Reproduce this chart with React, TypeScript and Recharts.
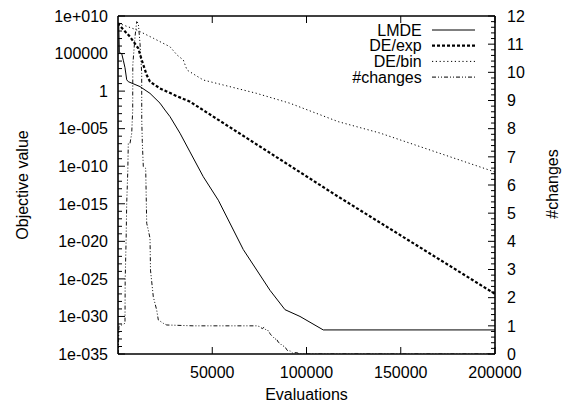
import React from 'react';
import { LineChart, Line, XAxis, YAxis, Legend, ReferenceLine } from 'recharts';

const FONT = '"Liberation Sans", Arial, Helvetica, sans-serif';
const FS = 16;

// ---------- data ----------
const lmdeEvals = [100, 400, 700, 1960, 2810, 3710, 4620, 5460, 11670, 16980, 22280, 24930, 27590, 32890, 38200, 45250, 53210, 66470, 80640, 88590, 96550, 108900, 200000];
const lmdeValues = [1e9, 6e8, 1.3e5, 1e5, 1.3e4, 1.3e3, 32, 18, 4, 0.5, 0.025, 3e-3, 4e-4, 2.5e-6, 8e-9, 4e-12, 3e-15, 8e-22, 3e-27, 8e-30, 1e-30, 1.6e-32, 1.6e-32];

const deExpEvals = [100, 690, 6370, 10770, 12570, 15230, 16980, 22280, 31140, 38200, 116870, 200000];
const deExpValues = [1.2e9, 6e8, 1.7e7, 5e5, 1.4e4, 140, 18, 2.3, 0.22, 0.039, 8.7e-15, 1e-27];

const deBinEvals = [100, 9920, 18730, 27590, 31300, 34640, 36600, 40850, 45250, 55860, 73580, 91250, 116870, 138990, 200000];
const deBinValues = [1.1e9, 1.4e8, 1.1e7, 8e5, 6.5e4, 1.4e4, 650, 140, 30, 6.5, 0.5, 0.024, 8.5e-5, 2.6e-6, 1.7e-11];

const changesEvals = [100, 500, 1960, 3710, 3800, 4300, 4620, 5200, 5460, 6370, 7270, 7800, 7850, 9020, 9920, 10770, 11670, 12570, 12600, 12890, 13420, 14690, 15230, 16070, 16980, 17240, 18730, 20530, 21380, 24030, 25840, 40000, 60000, 73700, 75300, 76500, 77500, 78500, 80000, 80600, 81500, 82400, 83300, 84000, 85000, 86000, 87000, 88600, 89500, 90500, 91250, 92500, 94800, 96500, 200000];
const changesValues = [0, 0.97, 1.03, 1.09, 2.6, 4.04, 5.35, 6.5, 7.48, 7.48, 7.83, 8.66, 10.26, 11.26, 11.8, 11.74, 11.03, 9.97, 8.31, 7.54, 6.65, 6.59, 4.64, 4.4, 4.11, 2.98, 2.03, 1.56, 1.21, 1.09, 1.03, 1.0, 1.0, 1.0, 0.97, 0.9, 0.95, 0.85, 0.82, 0.72, 0.66, 0.6, 0.52, 0.55, 0.42, 0.38, 0.3, 0.26, 0.15, 0.1, 0.12, 0.04, 0.05, 0, 0];

const seriesNames = ['LMDE', 'DE/exp', 'DE/bin', '#changes'];

const xTicks = [50000, 100000, 150000, 200000];
const xTickLabels = ['50000', '100000', '150000', '200000'];

const yMajorTicks = [1e10, 1e5, 1, 1e-5, 1e-10, 1e-15, 1e-20, 1e-25, 1e-30, 1e-35];
const yMajorLabels = ['1e+010', '100000', '1', '1e-005', '1e-010', '1e-015', '1e-020', '1e-025', '1e-030', '1e-035'];

const y2MajorTicks = [0, 1, 2, 3, 4, 5, 6, 7, 8, 9, 10, 11, 12];
const y2MajorLabels = ['0', '1', '2', '3', '4', '5', '6', '7', '8', '9', '10', '11', '12'];

// ---------- derived tables ----------
const toRows = (xs: number[], ys: number[]) => xs.map((x, i) => ({ x, y: ys[i] }));
const lmdeData = toRows(lmdeEvals, lmdeValues);
const deExpData = toRows(deExpEvals, deExpValues);
const deBinData = toRows(deBinEvals, deBinValues);
const changesData = toRows(changesEvals, changesValues);

// minor ticks: every decade on left, every 0.2 on right
const yAllTicks: number[] = [];
for (let e = -35; e <= 10; e++) yAllTicks.push(Number('1e' + e));
const y2AllTicks: number[] = [];
for (let i = 0; i <= 60; i++) y2AllTicks.push(Math.round(i * 2) / 10);

const TM_L = 10;
const TM_R = 12;
const TM_B = 12;
const PLOT_TOP = 16;

const LeftTick = (props: any) => {
  const { x, y, payload } = props;
  const v = payload.value;
  const e = Math.round(Math.log10(v));
  const idx = yMajorTicks.findIndex((t) => Math.round(Math.log10(t)) === e);
  const major = idx >= 0;
  const ax = x + TM_L;
  return (
    <g>
      <line x1={ax} x2={ax + (major ? 7 : 4)} y1={y} y2={y} stroke="#000" strokeWidth={1} />
      {major && (
        <text x={x} y={y} dy="0.36em" textAnchor="end" fontFamily={FONT} fontSize={FS} fill="#000">
          {yMajorLabels[idx]}
        </text>
      )}
    </g>
  );
};

const RightTick = (props: any) => {
  const { x, y, payload } = props;
  const v = payload.value;
  const idx = y2MajorTicks.findIndex((t) => Math.abs(t - v) < 1e-6);
  const major = idx >= 0;
  const ax = x - TM_R;
  return (
    <g>
      <line x1={ax} x2={ax - (major ? 7 : 4)} y1={y} y2={y} stroke="#000" strokeWidth={1} />
      {major && (
        <text x={x} y={y} dy="0.36em" textAnchor="start" fontFamily={FONT} fontSize={FS} fill="#000">
          {y2MajorLabels[idx]}
        </text>
      )}
    </g>
  );
};

const BottomTick = (props: any) => {
  const { x, y, payload } = props;
  const idx = xTicks.indexOf(payload.value);
  const ay = y - TM_B;
  return (
    <g>
      <line x1={x} x2={x} y1={ay} y2={ay - 7} stroke="#000" strokeWidth={1} />
      <line x1={x} x2={x} y1={PLOT_TOP} y2={PLOT_TOP + 7} stroke="#000" strokeWidth={1} />
      <text x={x} y={y} dy="0.72em" textAnchor="middle" fontFamily={FONT} fontSize={FS} fill="#000">
        {xTickLabels[idx]}
      </text>
    </g>
  );
};

const AxisTitle = (props: any) => {
  const { px, py, rot, text } = props;
  return (
    <text
      x={px}
      y={py}
      transform={rot ? `rotate(${rot} ${px} ${py})` : undefined}
      textAnchor="middle"
      dominantBaseline="central"
      fontFamily={FONT}
      fontSize={FS}
      fill="#000"
    >
      {text}
    </text>
  );
};

const lineStyles = [
  { w: 1, dash: undefined as string | undefined },
  { w: 2.2, dash: '3 2' },
  { w: 1, dash: '1.2 2.6' },
  { w: 1, dash: '4 2 1 2 1 2' },
];

const LegendBox = () => (
  <svg width={160} height={70} style={{ display: 'block', overflow: 'visible' }}>
    {seriesNames.map((n, i) => {
      const yy = 10 + i * 15.7;
      return (
        <g key={n}>
          <text x={91.7} y={yy} dy="0.36em" textAnchor="end" fontFamily={FONT} fontSize={FS} fill="#000">
            {n}
          </text>
          <line x1={102} x2={145} y1={yy} y2={yy} stroke="#000" strokeWidth={lineStyles[i].w} strokeDasharray={lineStyles[i].dash} />
        </g>
      );
    })}
  </svg>
);

export default function App() {
  return (
    <div style={{ position: 'absolute', left: 0, top: 0, width: 569, height: 405, background: '#fff' }}>
      <LineChart width={569} height={405} margin={{ top: 16, right: 0, bottom: 0, left: 0 }} style={{ fontFamily: FONT }}>
        <XAxis
          type="number"
          dataKey="x"
          domain={[0, 200000]}
          ticks={xTicks}
          interval={0}
          height={51}
          tickSize={0}
          tickMargin={TM_B}
          tick={<BottomTick />}
          axisLine={{ stroke: '#000', strokeWidth: 1.6 }}
          tickLine={false}
          allowDataOverflow
          label={<AxisTitle px={306.5} py={394} rot={0} text="Evaluations" />}
        />
        <YAxis
          yAxisId="left"
          scale="log"
          domain={[1e-35, 1e10]}
          ticks={yAllTicks}
          interval={0}
          width={118}
          tickSize={0}
          tickMargin={TM_L}
          tick={<LeftTick />}
          axisLine={{ stroke: '#000', strokeWidth: 1.6 }}
          tickLine={false}
          allowDataOverflow
          label={<AxisTitle px={22} py={185} rot={-90} text="Objective value" />}
        />
        <YAxis
          yAxisId="right"
          orientation="right"
          domain={[0, 12]}
          ticks={y2AllTicks}
          interval={0}
          width={74}
          tickSize={0}
          tickMargin={TM_R}
          tick={<RightTick />}
          axisLine={{ stroke: '#000', strokeWidth: 1.6 }}
          tickLine={false}
          allowDataOverflow
          label={<AxisTitle px={552} py={184} rot={-90} text="#changes" />}
        />
        <ReferenceLine yAxisId="left" y={1e10} stroke="#000" strokeWidth={1.6} />
        <Legend
          layout="vertical"
          align="center"
          verticalAlign="middle"
          wrapperStyle={{ left: 330, top: 20, width: 160, height: 70 }}
          content={() => <LegendBox />}
        />
        <Line yAxisId="left" data={lmdeData} dataKey="y" name={seriesNames[0]} type="linear" stroke="#000" strokeWidth={lineStyles[0].w} dot={false} isAnimationActive={false} />
        <Line yAxisId="left" data={deExpData} dataKey="y" name={seriesNames[1]} type="linear" stroke="#000" strokeWidth={lineStyles[1].w} strokeDasharray={lineStyles[1].dash} dot={false} isAnimationActive={false} />
        <Line yAxisId="left" data={deBinData} dataKey="y" name={seriesNames[2]} type="linear" stroke="#000" strokeWidth={lineStyles[2].w} strokeDasharray={lineStyles[2].dash} dot={false} isAnimationActive={false} />
        <Line yAxisId="right" data={changesData} dataKey="y" name={seriesNames[3]} type="linear" stroke="#111" strokeWidth={lineStyles[3].w} strokeDasharray={lineStyles[3].dash} dot={false} isAnimationActive={false} />
      </LineChart>
    </div>
  );
}
